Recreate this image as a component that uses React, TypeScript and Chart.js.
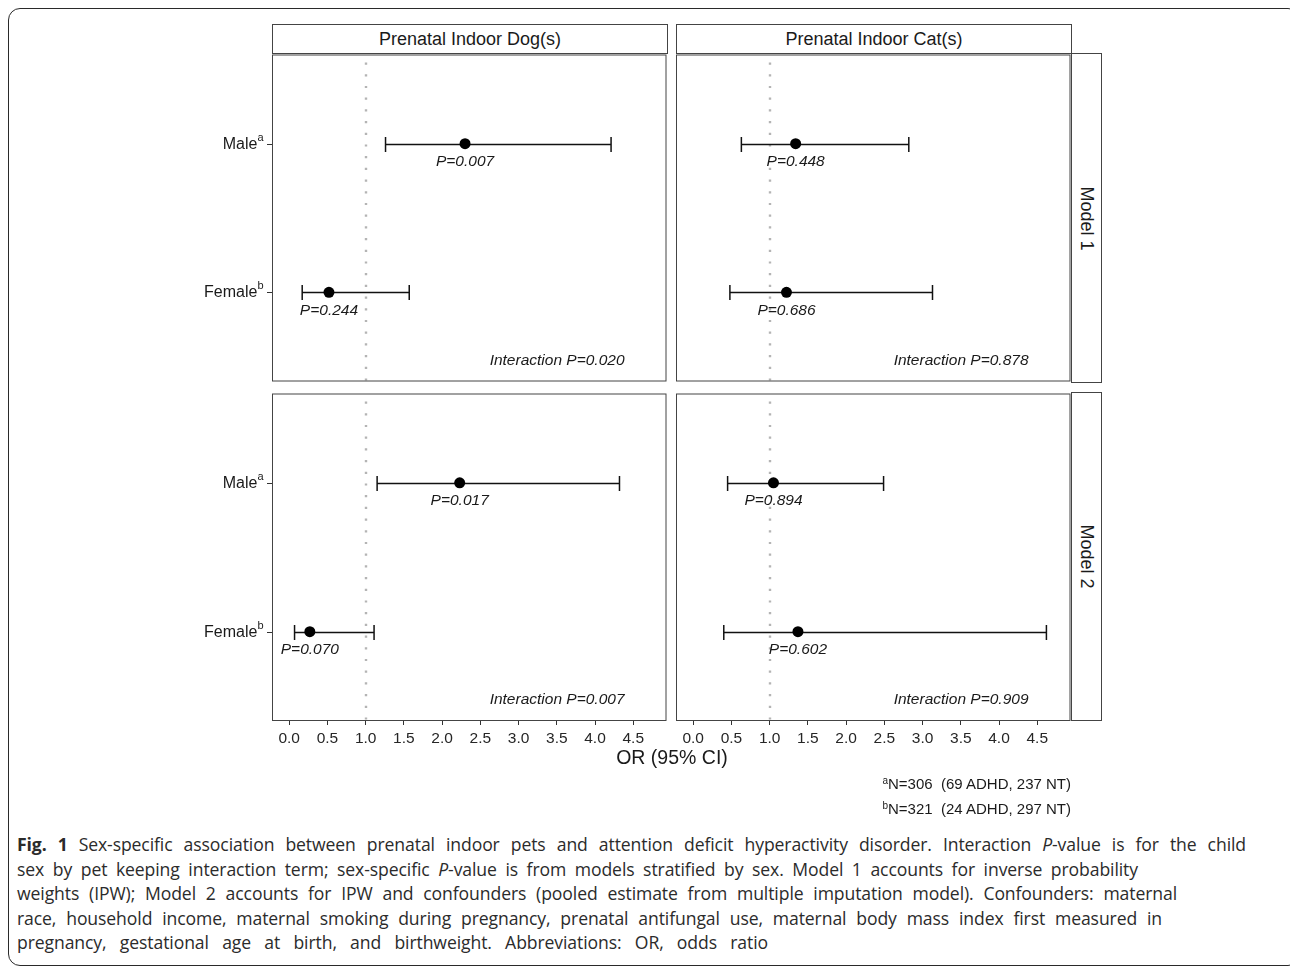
import React, { useEffect, useRef } from "react";
import { Chart, registerables } from "chart.js";

Chart.register(...registerables);

// ---------------- data ----------------
const exposures = ["Prenatal Indoor Dog(s)", "Prenatal Indoor Cat(s)"];
const models = ["Model 1", "Model 2"];
const sexLabels = ["Male", "Female"];
const sexSuperscripts = ["a", "b"];
const sexRows = [2, 1];
const xTicks = [0, 0.5, 1, 1.5, 2, 2.5, 3, 3.5, 4, 4.5];
const refOR = 1;

const dogM1OR = [2.3, 0.52];
const dogM1Low = [1.26, 0.17];
const dogM1High = [4.21, 1.57];
const dogM1P = ["0.007", "0.244"];

const catM1OR = [1.34, 1.22];
const catM1Low = [0.63, 0.48];
const catM1High = [2.82, 3.13];
const catM1P = ["0.448", "0.686"];

const dogM2OR = [2.23, 0.27];
const dogM2Low = [1.15, 0.07];
const dogM2High = [4.32, 1.11];
const dogM2P = ["0.017", "0.070"];

const catM2OR = [1.05, 1.37];
const catM2Low = [0.45, 0.4];
const catM2High = [2.49, 4.62];
const catM2P = ["0.894", "0.602"];

const interactionPM1 = ["0.020", "0.878"];
const interactionPM2 = ["0.007", "0.909"];

const xAxisTitle = "OR (95% CI)";
const footnoteSups = ["a", "b"];
const footnoteTexts = ["N=306  (69 ADHD, 237 NT)", "N=321  (24 ADHD, 297 NT)"];

// ---------------- layout ----------------
const FONT = "'Liberation Sans', Arial, Helvetica, sans-serif";
const CAP_FONT = "'Open Sans', 'Noto Sans', sans-serif";
const colX = [272, 676];
const colW = 396;
const rowTop = [53, 392];
const rowH = [330, 329];
const X_MIN = -0.225;
const X_MAX = 4.935;
const PAD_L = 100;

type PanelProps = {
  row: number;
  col: number;
  or: number[];
  lo: number[];
  hi: number[];
  p: string[];
  inter: string;
};

function Panel({ row, col, or, lo, hi, p, inter }: PanelProps) {
  const ref = useRef<HTMLCanvasElement>(null);
  const showX = row === 1;
  const showY = col === 0;
  const W = PAD_L + colW + 4;
  const H = 4 + rowH[row] + (showX ? 50 : 4);

  useEffect(() => {
    const canvas = ref.current!;
    const points = or.map((v, i) => ({ x: v, y: sexRows[i] }));

    const forest = {
      id: "forest",
      beforeDatasetsDraw(chart: any) {
        const { ctx, chartArea: a, scales } = chart;
        const xs = scales.x;
        const ys = scales.y;
        ctx.save();
        ctx.beginPath();
        ctx.rect(a.left, a.top, a.right - a.left, a.bottom - a.top);
        ctx.clip();
        // reference line
        const rx = Math.round(xs.getPixelForValue(refOR));
        ctx.strokeStyle = "#B4B4B4";
        ctx.lineWidth = 2.4;
        ctx.setLineDash([2.2, 9.5]);
        ctx.beginPath();
        ctx.moveTo(rx, a.top + 8);
        ctx.lineTo(rx, a.bottom);
        ctx.stroke();
        ctx.setLineDash([]);
        // error bars
        ctx.strokeStyle = "#111";
        ctx.lineWidth = 1.5;
        or.forEach((_, i) => {
          const y = Math.round(ys.getPixelForValue(sexRows[i])) + 0.5;
          const x1 = xs.getPixelForValue(lo[i]);
          const x2 = xs.getPixelForValue(hi[i]);
          ctx.beginPath();
          ctx.moveTo(x1, y);
          ctx.lineTo(x2, y);
          ctx.moveTo(x1, y - 7.5);
          ctx.lineTo(x1, y + 7.5);
          ctx.moveTo(x2, y - 7.5);
          ctx.lineTo(x2, y + 7.5);
          ctx.stroke();
        });
        ctx.restore();
      },
      afterDraw(chart: any) {
        const { ctx, chartArea: a, scales } = chart;
        const xs = scales.x;
        const ys = scales.y;
        ctx.save();
        // P labels
        ctx.fillStyle = "#1a1a1a";
        ctx.font = `italic 15.5px ${FONT}`;
        ctx.textAlign = "center";
        ctx.textBaseline = "middle";
        or.forEach((v, i) => {
          const y = ys.getPixelForValue(sexRows[i]);
          ctx.fillText(`P=${p[i]}`, xs.getPixelForValue(v), y + 18);
        });
        // interaction label
        ctx.textAlign = "right";
        ctx.fillText(`Interaction P=${inter}`, a.right - 42, a.bottom - 21);
        // panel border
        ctx.strokeStyle = "#444";
        ctx.lineWidth = 1;
        ctx.strokeRect(a.left + 0.5, a.top + 0.5, a.right - a.left - 1, a.bottom - a.top - 1);
        // y axis labels
        if (showY) {
          sexLabels.forEach((lab, i) => {
            const y = Math.round(ys.getPixelForValue(sexRows[i])) + 0.5;
            ctx.strokeStyle = "#333";
            ctx.beginPath();
            ctx.moveTo(a.left - 5, y);
            ctx.lineTo(a.left, y);
            ctx.stroke();
            ctx.fillStyle = "#1a1a1a";
            ctx.textAlign = "right";
            ctx.textBaseline = "middle";
            ctx.font = `11px ${FONT}`;
            const supW = ctx.measureText(sexSuperscripts[i]).width;
            const rx = a.left - 8.5;
            ctx.fillText(sexSuperscripts[i], rx, y - 7);
            ctx.font = `16px ${FONT}`;
            ctx.fillText(lab, rx - supW, y);
          });
        }
        ctx.restore();
      },
    };

    const chart = new Chart(canvas, {
      type: "scatter",
      data: {
        datasets: [
          {
            data: points,
            pointRadius: 5.5,
            pointHoverRadius: 5.5,
            pointBackgroundColor: "#000",
            pointBorderWidth: 0,
            pointBorderColor: "#000",
          },
        ],
      },
      options: {
        animation: false,
        responsive: false,
        events: [],
        layout: {
          padding: { left: PAD_L, right: 4, top: 4, bottom: showX ? 20 : 4 },
        },
        plugins: {
          legend: { display: false },
          tooltip: { enabled: false },
        },
        scales: {
          x: {
            type: "linear",
            min: X_MIN,
            max: X_MAX,
            display: showX,
            afterBuildTicks: (s: any) => {
              s.ticks = xTicks.map((v) => ({ value: v }));
            },
            afterFit: (s: any) => {
              if (showX) s.height = 30;
            },
            border: { display: false },
            grid: {
              display: true,
              drawOnChartArea: false,
              drawTicks: true,
              tickLength: 4,
              color: "#333",
              lineWidth: 1,
            },
            ticks: {
              autoSkip: false,
              maxRotation: 0,
              padding: 4,
              color: "#262626",
              font: { family: FONT, size: 15.5 },
              callback: (v: any) => Number(v).toFixed(1),
            },
          },
          y: {
            type: "linear",
            min: 0.4,
            max: 2.6,
            display: false,
          },
        },
      },
      plugins: [forest],
    });
    return () => chart.destroy();
  }, []);

  return (
    <canvas
      ref={ref}
      width={W}
      height={H}
      style={{
        position: "absolute",
        left: colX[col] - PAD_L,
        top: rowTop[row] - 4,
        width: W,
        height: H,
      }}
    />
  );
}

const captionLines: { w: number; parts: { t: string; s?: "b" | "i" }[] }[] = [
  {
    w: 1229,
    parts: [
      { t: "Fig. 1", s: "b" },
      { t: " Sex-specific association between prenatal indoor pets and attention deficit hyperactivity disorder. Interaction " },
      { t: "P", s: "i" },
      { t: "-value is for the child" },
    ],
  },
  {
    w: 1121,
    parts: [
      { t: "sex by pet keeping interaction term; sex-specific " },
      { t: "P", s: "i" },
      { t: "-value is from models stratified by sex. Model 1 accounts for inverse probability" },
    ],
  },
  {
    w: 1160,
    parts: [
      { t: "weights (IPW); Model 2 accounts for IPW and confounders (pooled estimate from multiple imputation model). Confounders: maternal" },
    ],
  },
  {
    w: 1145,
    parts: [
      { t: "race, household income, maternal smoking during pregnancy, prenatal antifungal use, maternal body mass index first measured in" },
    ],
  },
  {
    w: 751,
    parts: [{ t: "pregnancy, gestational age at birth, and birthweight. Abbreviations: OR, odds ratio" }],
  },
];
const captionCenters = [844, 869, 893, 918, 942];

export default function App() {
  useEffect(() => {
    document.body.style.margin = "0";
    document.body.style.background = "#fff";
  }, []);

  const panels = [
    { row: 0, col: 0, or: dogM1OR, lo: dogM1Low, hi: dogM1High, p: dogM1P, inter: interactionPM1[0] },
    { row: 0, col: 1, or: catM1OR, lo: catM1Low, hi: catM1High, p: catM1P, inter: interactionPM1[1] },
    { row: 1, col: 0, or: dogM2OR, lo: dogM2Low, hi: dogM2High, p: dogM2P, inter: interactionPM2[0] },
    { row: 1, col: 1, or: catM2OR, lo: catM2Low, hi: catM2High, p: catM2P, inter: interactionPM2[1] },
  ];

  return (
    <div
      style={{
        position: "absolute",
        left: 0,
        top: 0,
        width: 1290,
        height: 968,
        overflow: "hidden",
        background: "#fff",
      }}
    >
      {/* outer frame */}
      <div
        style={{
          position: "absolute",
          left: 8,
          top: 8,
          width: 1292,
          height: 958,
          boxSizing: "border-box",
          border: "1.6px solid #2a2a2a",
          borderRadius: 12,
        }}
      />
      {/* top strips */}
      {exposures.map((e, c) => (
        <div
          key={e}
          style={{
            position: "absolute",
            left: colX[c],
            top: 24,
            width: colW,
            height: 30,
            boxSizing: "border-box",
            border: "1px solid #444",
            display: "flex",
            alignItems: "center",
            justifyContent: "center",
            font: `18px ${FONT}`,
            color: "#1a1a1a",
          }}
        >
          {e}
        </div>
      ))}
      {/* right strips */}
      {models.map((m, r) => (
        <div
          key={m}
          style={{
            position: "absolute",
            left: colX[1] + colW - 1,
            top: rowTop[r],
            width: 31,
            height: rowH[r],
            boxSizing: "border-box",
            border: "1px solid #444",
            display: "flex",
            alignItems: "center",
            justifyContent: "center",
          }}
        >
          <div
            style={{
              transform: "rotate(90deg)",
              whiteSpace: "nowrap",
              font: `18px ${FONT}`,
              color: "#1a1a1a",
            }}
          >
            {m}
          </div>
        </div>
      ))}
      {panels.map((pp) => (
        <Panel key={`${pp.row}-${pp.col}`} {...pp} />
      ))}
      {/* x-axis title */}
      <div
        style={{
          position: "absolute",
          left: 472,
          width: 400,
          top: 746,
          textAlign: "center",
          font: `19.5px ${FONT}`,
          lineHeight: "22px",
          color: "#1a1a1a",
        }}
      >
        {xAxisTitle}
      </div>
      {/* footnotes */}
      {footnoteTexts.map((t, i) => (
        <div
          key={t}
          style={{
            position: "absolute",
            right: 1290 - 1071,
            top: 771 + i * 25,
            font: `15px ${FONT}`,
            lineHeight: "20px",
            color: "#1a1a1a",
            whiteSpace: "pre",
          }}
        >
          <span style={{ fontSize: 10, verticalAlign: 5 }}>{footnoteSups[i]}</span>
          {t}
        </div>
      ))}
      {/* caption */}
      {captionLines.map((ln, i) => (
        <div
          key={i}
          style={{
            position: "absolute",
            left: 17,
            top: captionCenters[i] - 12,
            width: ln.w,
            height: 24,
            lineHeight: "24px",
            font: `17.6px ${CAP_FONT}`,
            letterSpacing: "-0.1px",
            color: "#2b2b2b",
            textAlign: "justify",
            textAlignLast: "justify",
          }}
        >
          {ln.parts.map((pt, j) =>
            pt.s === "b" ? (
              <b key={j}>{pt.t}</b>
            ) : pt.s === "i" ? (
              <i key={j}>{pt.t}</i>
            ) : (
              <span key={j}>{pt.t}</span>
            )
          )}
        </div>
      ))}
    </div>
  );
}
